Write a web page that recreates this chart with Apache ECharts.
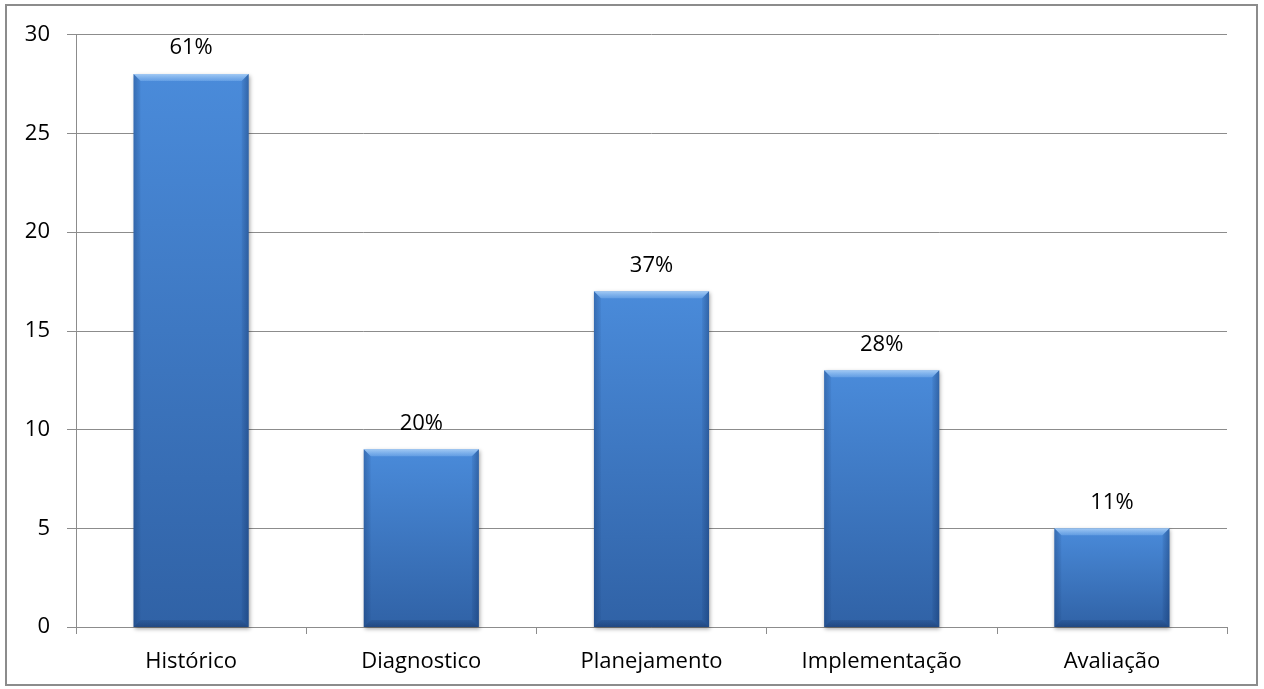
<!DOCTYPE html>
<html>
<head>
<meta charset="utf-8">
<script src="https://cdn.jsdelivr.net/npm/echarts@6/dist/echarts.min.js"></script>
<style>
  html, body { margin: 0; padding: 0; background: #fff; }
  #chart { width: 1264px; height: 689px; }
</style>
</head>
<body>
<div id="chart"></div>
<script>
// Etapas e quantidade de ocorrências
const categories = ['Histórico', 'Diagnostico', 'Planejamento', 'Implementação', 'Avaliação'];
const counts = [28, 9, 17, 13, 5];
const percentLabels = ['61%', '20%', '37%', '28%', '11%'];
const yTicks = [0, 5, 10, 15, 20, 25, 30];

const FONT = '"Open Sans", "Noto Sans", sans-serif';
const GRAY = '#8c8c8c';

const chart = echarts.init(document.getElementById('chart'), null, { renderer: 'canvas' });

// Bevel overlay drawn on top of each bar, positioned through the axis scales
function renderBevel(params, api) {
  const idx = api.value(0);
  const val = api.value(1);
  const top = api.coord([idx, val]);
  const base = api.coord([idx, 0]);
  const w = api.size([1, 0])[0] * 0.5;
  const l = top[0] - w / 2, r = top[0] + w / 2;
  const y0 = top[1], y1 = base[1];
  const b = Math.min(7, (y1 - y0) / 2);
  return {
    type: 'group',
    children: [
      { type: 'polygon', shape: { points: [[l, y0], [r, y0], [r - b, y0 + b], [l + b, y0 + b]] },
        style: { fill: new echarts.graphic.LinearGradient(0, 0, 0, 1, [
          { offset: 0, color: 'rgba(200,228,255,0.7)' }, { offset: 1, color: 'rgba(160,205,252,0.3)' }]) } },
      { type: 'polygon', shape: { points: [[l, y0], [l + b, y0 + b], [l + b, y1 - b], [l, y1]] },
        style: { fill: new echarts.graphic.LinearGradient(0, 0, 1, 0, [
          { offset: 0, color: 'rgba(10,40,90,0.3)' }, { offset: 1, color: 'rgba(10,40,90,0.06)' }]) } },
      { type: 'polygon', shape: { points: [[r, y0], [r, y1], [r - b, y1 - b], [r - b, y0 + b]] },
        style: { fill: new echarts.graphic.LinearGradient(1, 0, 0, 0, [
          { offset: 0, color: 'rgba(10,40,90,0.38)' }, { offset: 1, color: 'rgba(10,40,90,0.08)' }]) } },
      { type: 'polygon', shape: { points: [[l, y1], [l + b, y1 - b], [r - b, y1 - b], [r, y1]] },
        style: { fill: new echarts.graphic.LinearGradient(0, 1, 0, 0, [
          { offset: 0, color: 'rgba(10,30,70,0.38)' }, { offset: 1, color: 'rgba(10,30,70,0.12)' }]) } }
    ]
  };
}

const option = {
  animation: false,
  backgroundColor: '#fff',
  graphic: [{
    type: 'rect',
    shape: { x: 6, y: 5, width: 1251, height: 680 },
    style: { fill: 'none', stroke: GRAY, lineWidth: 2 },
    silent: true
  }],
  grid: { left: 76, right: 37, top: 34.5, bottom: 62, containLabel: false },
  xAxis: {
    type: 'category',
    data: categories,
    boundaryGap: true,
    axisLine: { show: true, lineStyle: { color: GRAY, width: 1 } },
    axisTick: { show: true, length: 7, alignWithLabel: false, lineStyle: { color: GRAY } },
    axisLabel: { color: '#000', fontSize: 22, fontFamily: FONT, margin: 24 },
    splitLine: { show: false }
  },
  yAxis: {
    type: 'value',
    min: 0, max: 30, interval: 5,
    axisLine: { show: true, lineStyle: { color: GRAY, width: 1 } },
    axisTick: { show: true, length: 9, lineStyle: { color: GRAY } },
    axisLabel: {
      color: '#000', fontSize: 22, fontFamily: FONT, margin: 26,
      formatter: v => yTicks.includes(v) ? String(v) : ''
    },
    splitLine: { show: true, lineStyle: { color: GRAY, width: 1 } }
  },
  series: [
    {
      type: 'bar',
      data: counts,
      barWidth: '50%',
      itemStyle: {
        color: new echarts.graphic.LinearGradient(0, 0, 0, 1, [
          { offset: 0, color: '#4a8bda' },
          { offset: 1, color: '#3062a6' }
        ]),
        shadowColor: 'rgba(0,0,0,0.35)',
        shadowBlur: 4,
        shadowOffsetX: 1,
        shadowOffsetY: 2
      },
      label: {
        show: true,
        position: 'top',
        distance: 15,
        color: '#000',
        fontSize: 22,
        fontFamily: FONT,
        formatter: p => percentLabels[p.dataIndex]
      },
      z: 2
    },
    {
      type: 'custom',
      renderItem: renderBevel,
      data: counts.map((v, i) => [i, v]),
      encode: { x: 0, y: 1 },
      silent: true,
      z: 3
    }
  ]
};

chart.setOption(option);
</script>
</body>
</html>
